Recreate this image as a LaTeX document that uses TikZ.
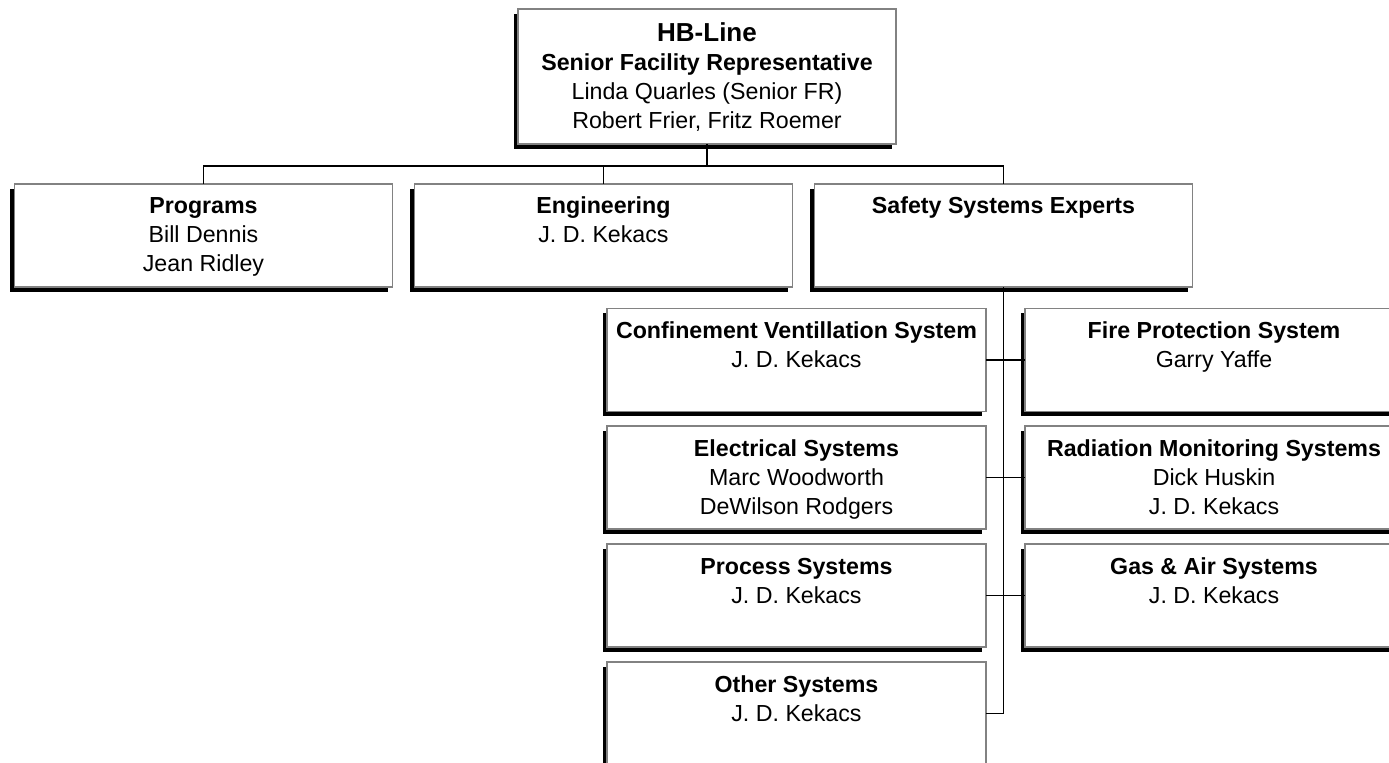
\documentclass[tikz,border=0pt]{standalone}
\usepackage{fontspec}
\setmainfont{Liberation Sans}
\usetikzlibrary{shadows}
\definecolor{boxgray}{RGB}{130,130,130}
\newcommand{\bxt}[4][22.5pt]{\parbox[c][#3][t]{#2}{\centering\rule{0pt}{#1}#4}}
\begin{document}
\begin{tikzpicture}[x=0.75pt,y=-0.75pt,
  box/.style={draw=boxgray, line width=0.8pt, fill=white,
    inner sep=0pt, outer sep=0pt,
    drop shadow={shadow xshift=-3.2pt, shadow yshift=-3.4pt, fill=black, opacity=1},
    font=\fontsize{17.4}{21.75}\selectfont},
  conn/.style={draw=black, line width=1.45pt}]
\useasboundingbox (0,0) rectangle (1389,763);
\clip (0,0) rectangle (1389,763);
\coordinate (bus) at (707,166);
% boxes
\node[box] (top) at (707,76.5) {\bxt[24.75pt]{283.5pt}{101.25pt}{{\fontsize{19.5}{21.75}\selectfont\bfseries HB-Line}\\\textbf{Senior Facility Representative}\\Linda Quarles (Senior FR)\\Robert Frier, Fritz Roemer}};
\node[box] (prog) at (203.5,235.5) {\bxt{283.5pt}{77.25pt}{\textbf{Programs}\\Bill Dennis\\Jean Ridley}};
\node[box] (eng) at (603.5,235.5) {\bxt{283.5pt}{77.25pt}{\textbf{Engineering}\\J. D. Kekacs}};
\node[box] (saf) at (1003.5,235.5) {\bxt{283.5pt}{77.25pt}{\textbf{Safety Systems Experts}}};
\node[box] (cvs) at (796.5,360) {\bxt{284.25pt}{77.25pt}{\textbf{Confinement Ventillation System}\\J. D. Kekacs}};
\node[box] (elec) at (796.5,477.5) {\bxt{284.25pt}{77.25pt}{\textbf{Electrical Systems}\\Marc Woodworth\\DeWilson Rodgers}};
\node[box] (proc) at (796.5,595.5) {\bxt{284.25pt}{77.25pt}{\textbf{Process Systems}\\J. D. Kekacs}};
\node[box] (oth) at (796.5,713.5) {\bxt{284.25pt}{77.25pt}{\textbf{Other Systems}\\J. D. Kekacs}};
\node[box] (fire) at (1214,360) {\bxt{283.5pt}{77.25pt}{\textbf{Fire Protection System}\\Garry Yaffe}};
\node[box] (rad) at (1214,477.5) {\bxt{283.5pt}{77.25pt}{\textbf{Radiation Monitoring Systems}\\Dick Huskin\\J. D. Kekacs}};
\node[box] (gas) at (1214,595.5) {\bxt{283.5pt}{77.25pt}{\textbf{Gas \& Air Systems}\\J. D. Kekacs}};
% connectors
\draw[conn] (top.south) -- (bus);
\draw[conn] (prog.north) |- (bus) -| (saf.north);
\draw[conn] (eng.north) -- (eng.north |- bus);
\draw[conn] (saf.south) |- (oth.east);
\draw[conn] (cvs.east) -- (fire.west);
\draw[conn] (elec.east) -- (rad.west);
\draw[conn] (proc.east) -- (gas.west);
\end{tikzpicture}
\end{document}
